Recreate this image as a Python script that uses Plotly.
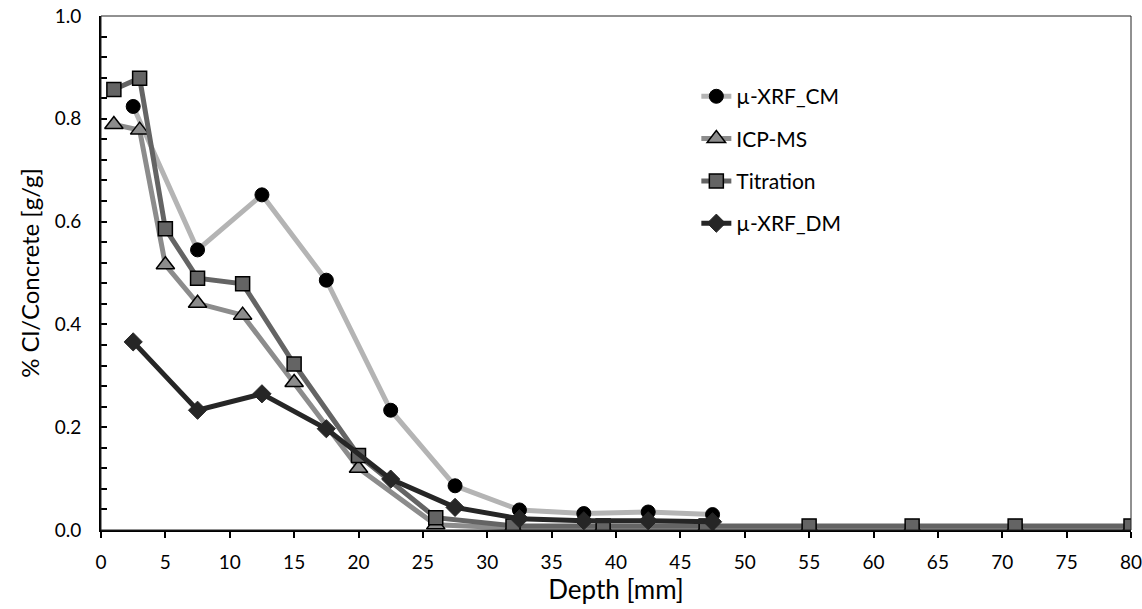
import plotly.graph_objects as go

# Data
xrf_cm_depth = [2.5, 7.5, 12.5, 17.5, 22.5, 27.5, 32.5, 37.5, 42.5, 47.5]
xrf_cm_val = [0.824, 0.545, 0.652, 0.486, 0.233, 0.086, 0.039, 0.032, 0.035, 0.030]

icp_depth = [1, 3, 5, 7.5, 11, 15, 20, 26, 32, 39, 47, 55, 63, 71, 80]
icp_val = [0.789, 0.778, 0.516, 0.441, 0.418, 0.287, 0.120, 0.010, 0.004, 0.004, 0.004, 0.004, 0.004, 0.004, 0.004]

tit_depth = [1, 3, 5, 7.5, 11, 15, 20, 26, 32, 39, 47, 55, 63, 71, 80]
tit_val = [0.857, 0.879, 0.586, 0.490, 0.479, 0.323, 0.145, 0.024, 0.008, 0.008, 0.008, 0.008, 0.008, 0.008, 0.008]

xrf_dm_depth = [2.5, 7.5, 12.5, 17.5, 22.5, 27.5, 32.5, 37.5, 42.5, 47.5]
xrf_dm_val = [0.366, 0.233, 0.265, 0.197, 0.099, 0.044, 0.022, 0.018, 0.018, 0.016]

x_ticks = list(range(0, 85, 5))
y_ticks = [0.0, 0.2, 0.4, 0.6, 0.8, 1.0]

FONT = "Lato, Open Sans, sans-serif"

fig = go.Figure()
fig.add_trace(go.Scatter(
    x=xrf_cm_depth, y=xrf_cm_val, name="µ-XRF_CM", mode="lines+markers",
    line=dict(color="#b4b4b4", width=5),
    marker=dict(symbol="circle", size=14, color="#000000", line=dict(color="#000000", width=1)),
    legendgroup="a"))
fig.add_trace(go.Scatter(
    x=icp_depth, y=icp_val, name="ICP-MS", mode="lines+markers",
    line=dict(color="#8c8c8c", width=5),
    marker=dict(symbol="triangle-up", size=16, color="#8c8c8c", line=dict(color="#000000", width=1.5)),
    legendgroup="b"))
fig.add_trace(go.Scatter(
    x=tit_depth, y=tit_val, name="Titration", mode="lines+markers",
    line=dict(color="#646464", width=5),
    marker=dict(symbol="square", size=14, color="#646464", line=dict(color="#000000", width=1.5)),
    legendgroup="c"))
fig.add_trace(go.Scatter(
    x=xrf_dm_depth, y=xrf_dm_val, name="µ-XRF_DM", mode="lines+markers",
    line=dict(color="#262626", width=5),
    marker=dict(symbol="diamond", size=14, color="#262626", line=dict(color="#262626", width=1)),
    legendgroup="d"))

fig.update_layout(
    width=1142, height=609,
    margin=dict(l=101, r=11, t=16, b=79, autoexpand=False),
    paper_bgcolor="white", plot_bgcolor="white",
    font=dict(family=FONT, size=19, color="#000000"),
    showlegend=True,
    legend=dict(x=0.578, y=0.883, xanchor="left", yanchor="top",
                font=dict(family=FONT, size=21, color="#000000"),
                tracegroupgap=12, bgcolor="rgba(0,0,0,0)"),
    xaxis=dict(
        range=[0, 80], tickmode="array", tickvals=x_ticks,
        ticktext=[str(v) for v in x_ticks],
        ticks="outside", ticklen=6, tickcolor="#000000", tickwidth=1.5,
        ticklabelstandoff=8, ticklabeloverflow="allow", automargin=False,
        showline=True, linecolor="#000000", linewidth=2,
        showgrid=False, zeroline=False,
        title=dict(text="Depth [mm]", font=dict(family=FONT, size=26), standoff=6),
        tickfont=dict(family=FONT, size=19),
    ),
    yaxis=dict(
        range=[0, 1.0], tickmode="array", tickvals=y_ticks,
        ticktext=["%.1f" % v for v in y_ticks],
        ticks="inside", ticklen=6, tickcolor="#000000", tickwidth=1.5,
        ticklabelstandoff=14, ticklabeloverflow="allow", automargin=False,
        minor=dict(dtick=0.04, ticks="inside", ticklen=6, tickcolor="#000000", showgrid=False),
        showline=True, linecolor="#000000", linewidth=2,
        showgrid=False, zeroline=False,
        title=dict(text="% Cl/Concrete [g/g]", font=dict(family=FONT, size=24), standoff=8),
        tickfont=dict(family=FONT, size=19),
    ),
    shapes=[dict(type="rect", xref="paper", yref="paper", x0=0, y0=0, x1=1, y1=1,
                 line=dict(color="#222222", width=1), layer="above")],
)

fig.write_html("out.html")
